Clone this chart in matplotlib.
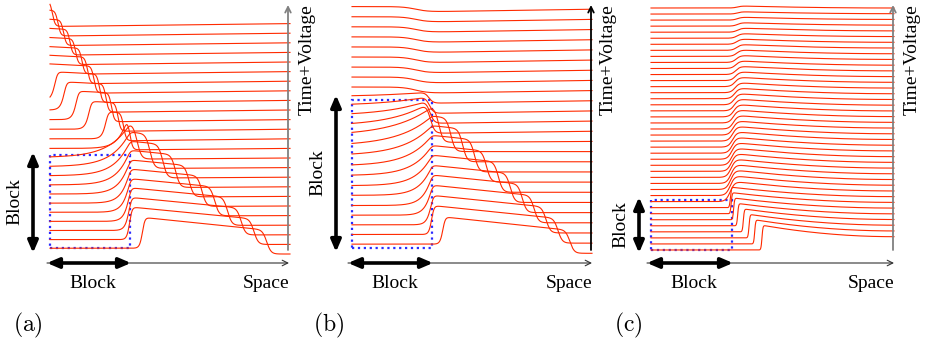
import numpy as np
import matplotlib.pyplot as plt
from matplotlib.patches import Rectangle

W, H = 926, 347
RED = '#ff2a00'
BLUE = '#2a2aff'
plt.rcParams['mathtext.fontset'] = 'cm'
SERIF = 'Liberation Serif'

# space runs 0..3, the block is 0..1; traces counted from the bottom (k=0)
# ---- panel (a), 25 traces
rise_a  = [1.16, 1.0, 1.0, 1.0, 1.0, 1.0, 1.0, 1.0, 1.0, 1.0, 1.0, 0.96,
           0.71, 0.50, 0.34, 0.19, 0.075, -1, -1, -1, -1, -1, -1, -1, -1]
lam_a   = [0.02, 0.02, 0.035, 0.05, 0.07, 0.09, 0.12, 0.15, 0.18, 0.21, 0.24, 0.1,
           0.035, 0.035, 0.035, 0.035, 0.035, 0.035, 0.035, 0.035, 0.035, 0.035, 0.035, 0.035, 0.035]
front_a = [2.71, 2.55, 2.39, 2.22, 2.06, 1.90, 1.74, 1.57, 1.41, 1.25, 1.09, 1.0,
           0.92, 0.85, 0.77, 0.70, 0.62, 0.55, 0.47, 0.40, 0.32, 0.25, 0.17, 0.10, 0.03]
amp_a   = [3.95, 3.9, 3.9, 3.9, 3.85, 3.85, 3.8, 3.8, 3.75, 3.7, 3.6, 3.0,
           2.7, 2.7, 2.7, 2.6, 2.6, 2.4, 2.3, 2.2, 2.15, 2.1, 2.05, 2.0, 2.0]
slope_a = [-0.85, -0.8, -0.8, -0.8, -0.8, -0.8, -0.8, -0.8, -0.8, -0.8, -0.8, -0.6,
           -0.4, -0.4, -0.4, -0.4, -0.4, -0.4, -0.4, -0.4, -0.4, -0.4, -0.4, -0.4, -0.4]
block_a = [0.6, 0.5, 0.45, 0.4, 0.35, 0.3, 0.25, 0.2, 0.15, 0.1, 0.05, 0.0,
           0, 0, 0, 0, 0, 0, 0, 0, 0, 0, 0, 0, 0]
tail_a  = [-0.05, -0.05, -0.05, -0.05, -0.05, -0.08, -0.08, -0.1, -0.1, -0.1, -0.12, -0.15,
           -0.2, -0.2, -0.2, -0.2, -0.2, -0.2, -0.2, -0.2, -0.2, -0.2, -0.2, -0.2, -0.2]
width_a = [0.027] * 11 + [0.017] * 14

# ---- panel (b), 25 traces
rise_b  = [1.14, 1.0, 1.0, 1.0, 1.0, 1.0, 1.0, 1.0, 1.0, 1.0, 1.0, 1.0,
           1.0, 1.0, 1.0, 1.0, 9, 9, 9, 9, 9, 9, 9, 9, 9]
lam_b   = [0.02, 0.02, 0.04, 0.07, 0.1, 0.14, 0.18, 0.22, 0.27, 0.32, 0.37, 0.42,
           0.45, 0.5, 0.55, 0.6, 1, 1, 1, 1, 1, 1, 1, 1, 1]
front_b = [2.725, 2.576, 2.427, 2.278, 2.129, 1.98, 1.831, 1.682, 1.533, 1.384, 1.235, 1.086,
           0.975, 0.97, 0.965, 0.96, 0.8, 0.8, 0.8, 0.8, 0.8, 0.8, 0.8, 0.8, 0.8]
amp_b   = [3.7, 3.7, 3.7, 3.7, 3.7, 3.65, 3.65, 3.6, 3.6, 3.55, 3.5, 3.4,
           3.0, 2.2, 1.5, 0.9, 0, 0, 0, 0, 0, 0, 0, 0, 0]
slope_b = [-0.83, -0.8, -0.8, -0.8, -0.8, -0.8, -0.8, -0.8, -0.8, -0.8, -0.8, -0.8,
           0, 0, 0, 0, 0, 0, 0, 0, 0, 0, 0, 0, 0]
block_b = [0.9, 0.85, 0.8, 0.75, 0.7, 0.7, 0.65, 0.65, 0.6, 0.6, 0.55, 0.55,
           0.5, 0.5, 0.5, 0.4, 0.35, 0.33, 0.31, 0.3, 0.29, 0.28, 0.27, 0.26, 0.26]
tail_b  = [0, 0, 0, 0, 0, 0, 0, 0, 0, 0, 0, -0.1,
           -0.2, -0.22, -0.24, -0.24, -0.24, -0.24, -0.24, -0.24, -0.24, -0.24, -0.24, -0.24, -0.24]
width_b = [0.027] * 16 + [0.08] * 9

# ---- panel (c), 41 traces
rise_c = [1.37, 1.28, 1.21, 1.14, 1.07, 1.02, 0.99, 0.98,
          0.98, 0.98, 0.985, 0.99, 0.99, 0.995, 1.0, 1.0, 1.005, 1.01, 1.01, 1.015, 1.02,
          1.02, 1.025, 1.03, 1.03, 1.035, 1.04, 1.04, 1.045, 1.05, 1.05, 1.055, 1.06,
          1.06, 1.06, 1.065, 1.07, 1.07, 1.07, 1.07, 1.07]
peak_c = [4.1, 4.0, 3.9, 3.8, 3.7, 3.6, 3.5, 3.4,
          3.4, 3.35, 3.3, 3.2, 3.1, 3.0, 2.9, 2.8, 2.7, 2.6, 2.5, 2.4, 2.3,
          2.2, 2.1, 2.0, 1.9, 1.8, 1.7, 1.6, 1.5, 1.4, 1.3, 1.2, 1.1,
          1.0, 0.9, 0.8, 0.7, 0.6, 0.5, 0.4, 0.35]
end_c = [2.2, 2.15, 2.1, 2.04, 1.98, 1.93, 1.87, 1.82, 1.76, 1.71, 1.65, 1.6, 1.54, 1.49,
         1.43, 1.38, 1.32, 1.27, 1.21, 1.16, 1.1, 1.05, 0.99, 0.94, 0.88, 0.83, 0.77, 0.72,
         0.66, 0.61, 0.55, 0.5, 0.44, 0.39, 0.33, 0.28, 0.22, 0.17, 0.11, 0.06, 0.0]
width_c = [0.006] * 8 + [0.028] * 33


def sig(z):
    return 0.5 * (1 + np.tanh(z / 2))


def trace_ab(x, r, lam, f, a, s, c, t, wf, d=0.015):
    g = np.exp(-d * np.logaddexp(0, (r - x) / d) / lam)
    left = c * (1 - g) + (a + s * (x - 1)) * g
    hh = sig((x - f) / wf)
    right = t * (3 - x) / 2
    return left * (1 - hh) + right * hh


def trace_c(x, r, p, e, w):
    u = np.clip((3 - x) / (3 - r), 0, 1)
    level = e + (p - e) * u ** 2.0
    return sig((x - r) / w) * level


fig = plt.figure(figsize=(W / 100, H / 100), dpi=100)


def panel(px0, px1, X0, SX, Y0, SY):
    ax = fig.add_axes([px0 / W, 0, (px1 - px0) / W, 1])
    ax.set_xlim((px0 - X0) / SX, (px1 - X0) / SX)
    ax.set_ylim((Y0 - H) / SY, Y0 / SY)
    ax.axis('off')
    return ax


x = np.linspace(0, 3, 2000)

ax_a = panel(0, 309, 50, 80, 254, 9.6)
for k in range(25):
    v = trace_ab(x, rise_a[k], lam_a[k], front_a[k], amp_a[k], slope_a[k],
                 block_a[k], tail_a[k], width_a[k])
    ax_a.plot(x, k + v, color=RED, lw=0.8)
ax_a.add_patch(Rectangle((0, 0.6), 1, 9.7, fill=False, ec=BLUE, ls=':', lw=1.6))

ax_b = panel(309, 615, 352, 80, 253.3, 10.17)
for k in range(25):
    v = trace_ab(x, rise_b[k], lam_b[k], front_b[k], amp_b[k], slope_b[k],
                 block_b[k], tail_b[k], width_b[k])
    ax_b.plot(x, k + v, color=RED, lw=0.8)
ax_b.add_patch(Rectangle((0, 0.52), 1, 14.55, fill=False, ec=BLUE, ls=':', lw=1.6))

ax_c = panel(615, 926, 651, 81, 250, 6.05)
for k in range(41):
    v = trace_c(x, rise_c[k], peak_c[k], end_c[k], width_c[k])
    ax_c.plot(x, k + v, color=RED, lw=0.8)
ax_c.add_patch(Rectangle((0, 0), 1, 8.26, fill=False, ec=BLUE, ls=':', lw=1.6))

# annotation layer in pixel units
ov = fig.add_axes([0, 0, 1, 1])
ov.set_xlim(0, W)
ov.set_ylim(H, 0)
ov.axis('off')
ov.patch.set_alpha(0)

panels = [  # left, block edge, right, thick-arrow x, its top, its bottom, side label y, top-label x, tag
    (47, 131, 289, 33, 152, 253, 202, 307, 'a', '#808080'),
    (348, 433, 592, 336, 95, 252, 173, 608, 'b', 'black'),
    (647, 733, 894, 639, 197, 253, 225, 912, 'c', '#808080'),
]
for (xl, xb, xr, xv, yt, yb, ys, xt, tag, axc) in panels:
    ov.annotate('', xy=(xr, 263), xytext=(xl, 263),
                arrowprops=dict(arrowstyle='->', lw=0.8, color='#333333', shrinkA=0, shrinkB=0))
    ov.annotate('', xy=(xb, 263), xytext=(xl, 263),
                arrowprops=dict(arrowstyle='<|-|>,head_length=0.7,head_width=0.3', lw=2.6,
                                color='black', shrinkA=0, shrinkB=0))
    ov.annotate('', xy=(xv, yt), xytext=(xv, yb),
                arrowprops=dict(arrowstyle='<|-|>,head_length=0.7,head_width=0.3', lw=2.6,
                                color='black', shrinkA=0, shrinkB=0))
    ov.annotate('', xy=(xr - 1, 5), xytext=(xr - 1, 250),
                arrowprops=dict(arrowstyle='->', lw=1.3, color=axc, shrinkA=0, shrinkB=0))
    ov.text(xv - 18, ys, 'Block', rotation=90, ha='center', va='center',
            fontsize=14, family=SERIF)
    ov.text((xl + xb) / 2 + 4, 283, 'Block', ha='center', va='center', fontsize=14, family=SERIF)
    ov.text(xr, 283, 'Space', ha='right', va='center', fontsize=14, family=SERIF)
    ov.text(xt, 4, 'Time+Voltage', rotation=90, ha='center', va='top', fontsize=14, family=SERIF)
    ov.text(xl - 19, 325, r'$\mathrm{(' + tag + ')}$', ha='center', va='center', fontsize=17)

fig.savefig('out.png', dpi=100)
